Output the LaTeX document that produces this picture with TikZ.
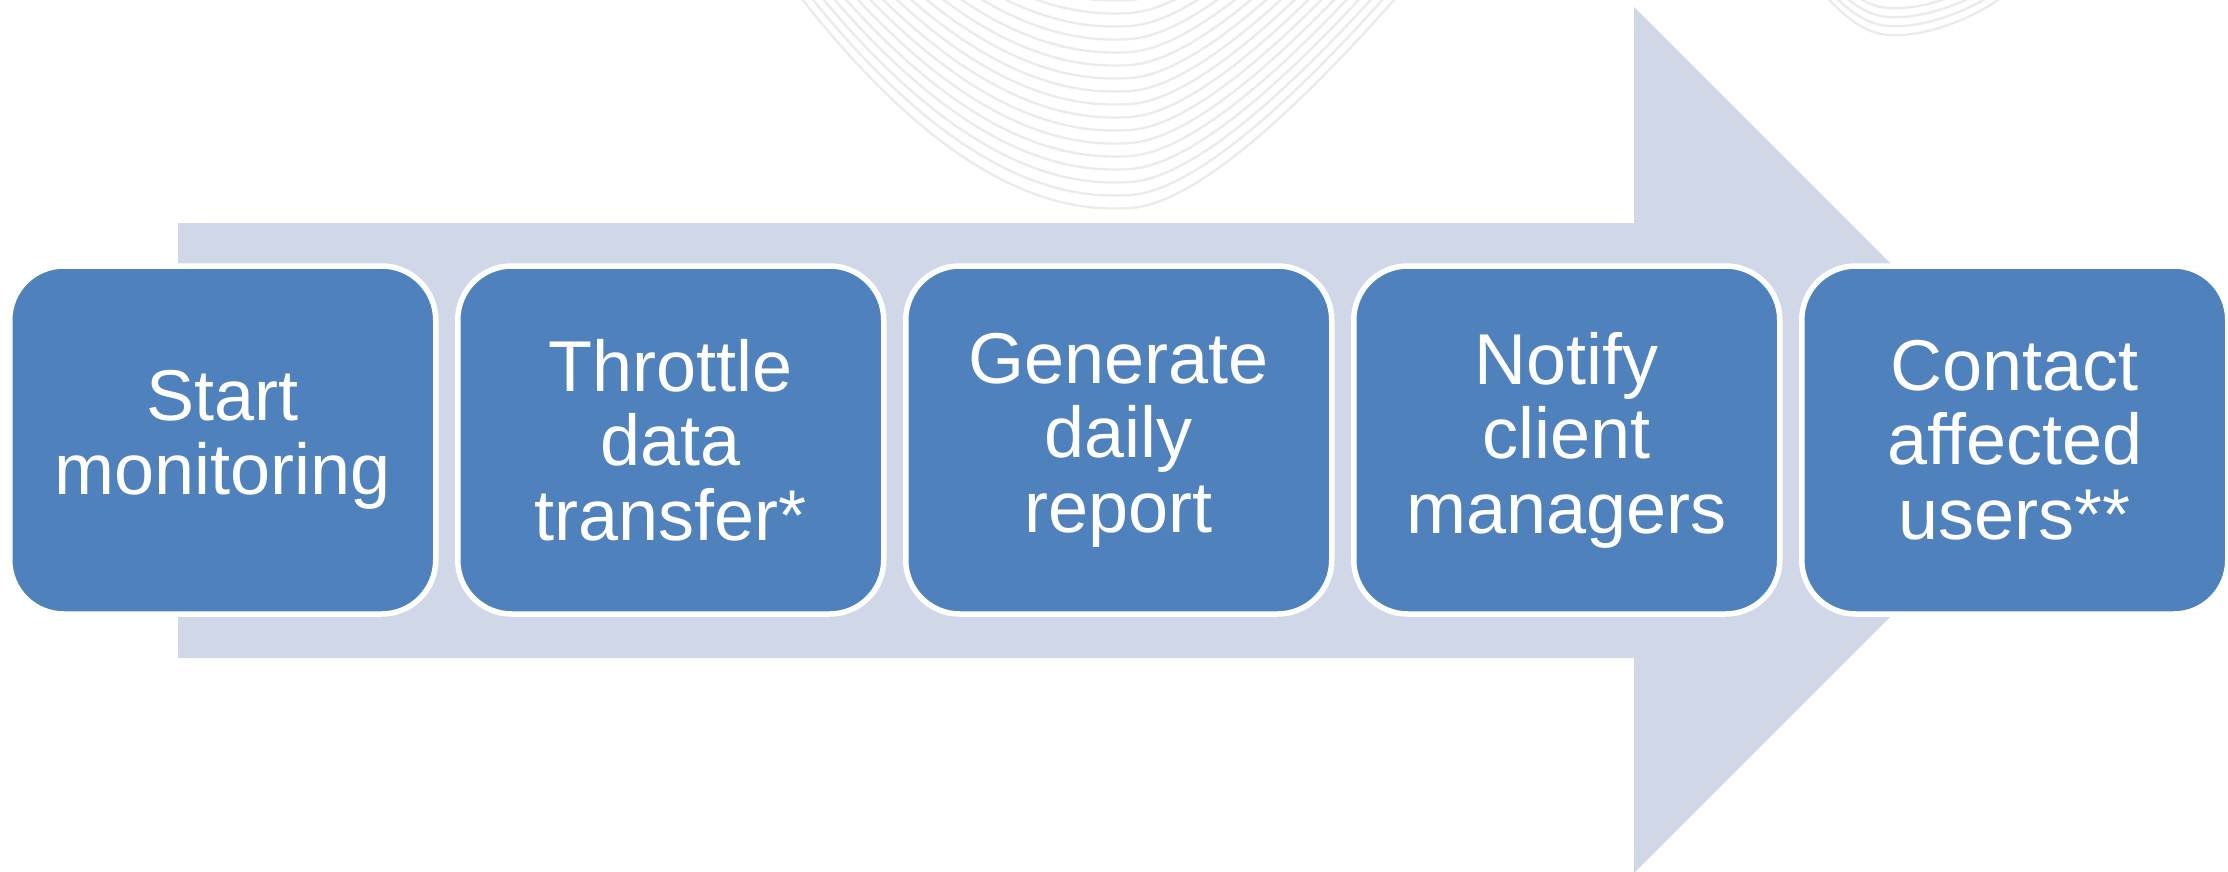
\documentclass[tikz,border=0pt]{standalone}
\usepackage{fontspec}
\setmainfont{Liberation Sans}
\usepackage{tikz}
\usetikzlibrary{positioning}

\definecolor{stepblue}{HTML}{4F81BD}
\definecolor{arrowgray}{HTML}{D0D8E8}
\definecolor{wavegray}{HTML}{EBEBEB}

\begin{document}
\begin{tikzpicture}[x=0.5pt,y=-0.5pt]
\useasboundingbox (0,0) rectangle (2228,872);

\tikzstyle{stepbox}=[draw=white,line width=2.75pt,fill=stepblue,rounded corners=27pt,
  minimum width=213pt,minimum height=174pt,inner sep=0pt,outer sep=0pt,
  text=white,align=center,font=\fontsize{36pt}{37.25pt}\selectfont]
\tikzstyle{wave}=[wavegray,line width=1.2pt]

% faint waves in the background
\begin{scope}
\clip (0,0) rectangle (2228,872);
\foreach \k in {0,...,16}
  \draw[wave,yshift=\k*6.5pt] (780,-30) .. controls (950,200) and (1070,212) .. (1130,208)
    .. controls (1195,204) and (1300,110) .. (1420,-30);
\foreach \k in {0,...,3}
  \draw[wave,yshift=\k*4.5pt] (1820,-10) .. controls (1860,35) and (1880,36) .. (1902,35)
    .. controls (1940,33) and (1990,10) .. (2010,-10);
\end{scope}

% big arrow
\fill[arrowgray] (178,223) -- (1634,223) -- (1634,7) -- (2067,440) -- (1634,873)
  -- (1634,658) -- (178,658) -- cycle;

\node (start) [stepbox] at (222.75,440) {Start\\monitoring};
\node (throttle) [stepbox,right=11pt of start] {Throttle\\data\\transfer*};
\node (report) [stepbox,right=11pt of throttle] {Generate\\daily\\report};
\node (notify) [stepbox,right=11pt of report] {Notify\\client\\managers};
\node (contact) [stepbox,right=11pt of notify] {Contact\\affected\\users**};
\end{tikzpicture}
\end{document}
